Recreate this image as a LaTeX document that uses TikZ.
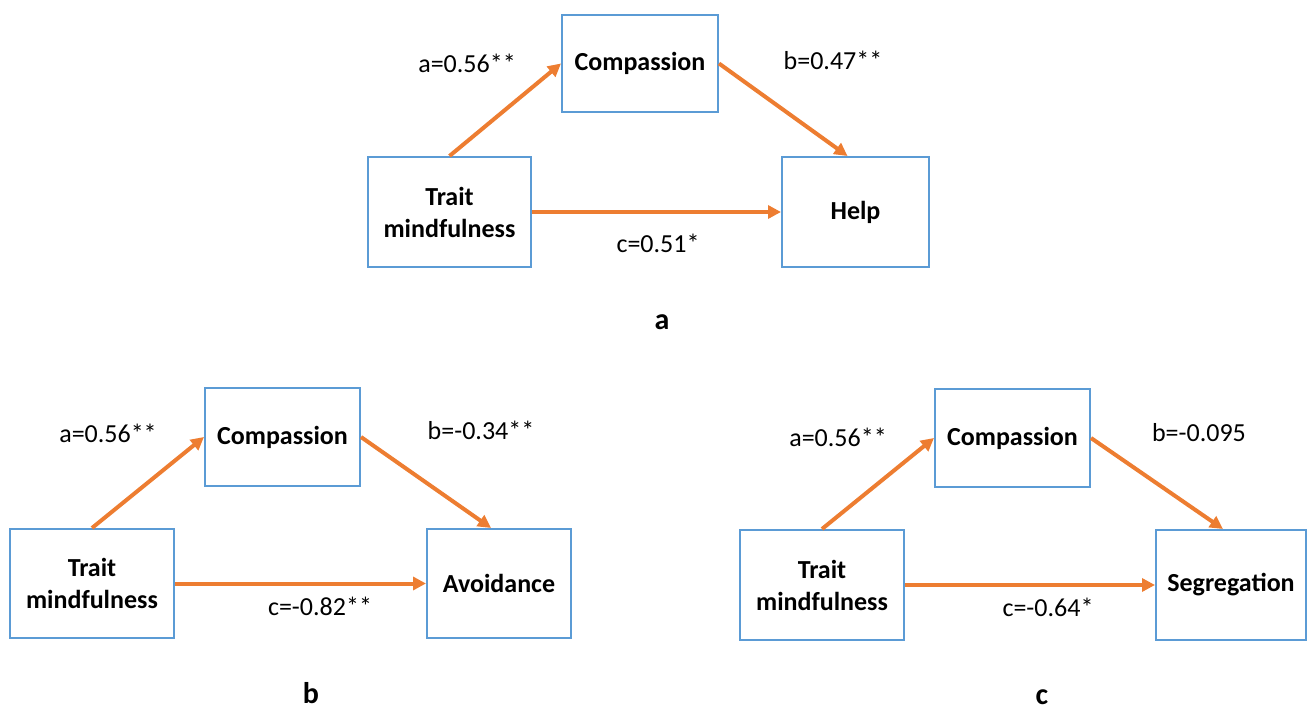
\documentclass[tikz,border=0pt]{standalone}
\usepackage{fontspec}
\setmainfont{Carlito}
\usepackage{tikz}
\usetikzlibrary{arrows,arrows.meta,calc,positioning}
\definecolor{boxblue}{HTML}{5B9BD5}
\definecolor{linkorange}{HTML}{ED7D31}
\tikzset{
  varbox/.style={draw=boxblue,line width=1pt,fill=white,inner sep=0pt,align=center,
    font=\fontsize{13}{16}\selectfont\bfseries},
  link/.style={draw=linkorange,line width=2pt,-{Triangle[length=6.5pt,width=6.5pt]}},
  coef/.style={font=\fontsize{13}{16}\selectfont},
  panel/.style={inner sep=0pt,font=\fontsize{15}{16}\selectfont\bfseries}
}

\begin{document}
\begin{tikzpicture}[x=0.5pt,y=-0.5pt]
\useasboundingbox (0,0) rectangle (1311,710);
% panel a
\node[varbox,minimum width=78pt,minimum height=48.5pt] (compa) at (640,63.5) {Compassion};
\node[varbox,minimum width=81.5pt,minimum height=55pt] (traita) at (449.5,212) {Trait\\mindfulness};
\node[varbox,minimum width=73.5pt,minimum height=55pt] (help) at (855.5,212) {Help};
\draw[link] (traita.north) -- (compa.west);
\draw[link] (compa.east) -- ($(help.north)+(-8,0)$);
\draw[link] (traita.east) -- (help.west);
\node[coef] (aa) at (467,63) {a=0.56**};
\node[coef] (ba) at (833,60) {b=0.47**};
\node[coef] (ca) at (658,243) {c=0.51*};
\node[panel] (labela) at (662,322) {a};
% panel b
\node[varbox,minimum width=77.5pt,minimum height=49pt] (compb) at (282.5,437) {Compassion};
\node[varbox,minimum width=82pt,minimum height=54.5pt] (traitb) at (92,583.5) {Trait\\mindfulness};
\node[varbox,minimum width=72pt,minimum height=54.5pt] (avoid) at (499,583.5) {Avoidance};
\draw[link] (traitb.north) -- (compb.west);
\draw[link] (compb.east) -- ($(avoid.north)+(-8,0)$);
\draw[link] (traitb.east) -- (avoid.west);
\node[coef] (ab) at (108,433) {a=0.56**};
\node[coef] (bb) at (481,430) {b=-0.34**};
\node[coef] (cb) at (320,606) {c=-0.82**};
\node[panel] (labelb) at (311,693) {b};
% panel c
\node[varbox,minimum width=77.5pt,minimum height=49pt] (compc) at (1012.5,438) {Compassion};
\node[varbox,minimum width=82pt,minimum height=55pt] (traitc) at (822,585) {Trait\\mindfulness};
\node[varbox,minimum width=75pt,minimum height=55pt] (segr) at (1231,585) {Segregation};
\draw[link] (traitc.north) -- (compc.west);
\draw[link] (compc.east) -- ($(segr.north)+(-8,0)$);
\draw[link] (traitc.east) -- (segr.west);
\node[coef] (ac) at (838,437) {a=0.56**};
\node[coef] (bc) at (1199,433) {b=-0.095};
\node[coef] (cc) at (1048,607) {c=-0.64*};
\node[panel] (labelc) at (1042,697) {c};
\end{tikzpicture}
\end{document}
